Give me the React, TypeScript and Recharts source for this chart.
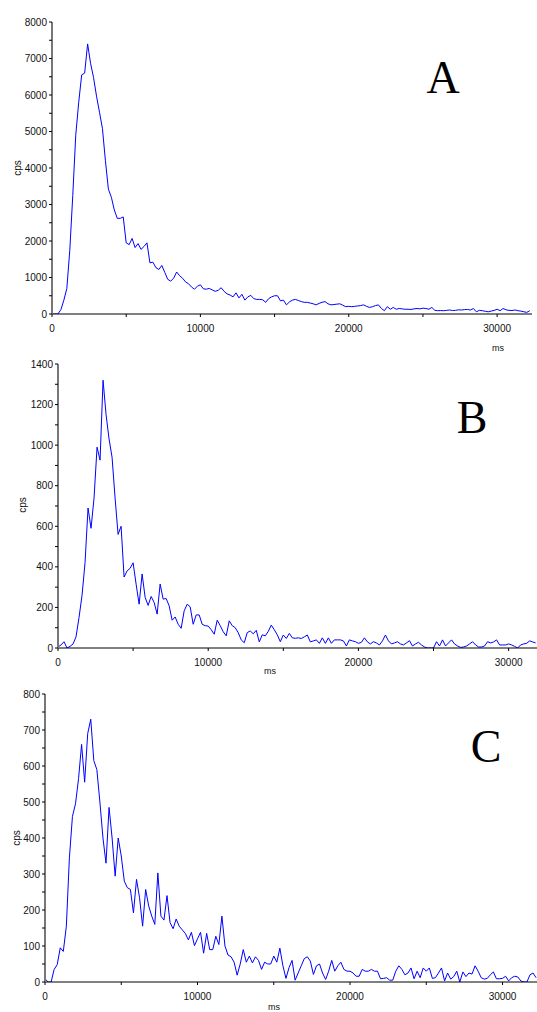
import React from 'react';
import { LineChart, Line, XAxis, YAxis } from 'recharts';

// counts per second, sampled every 200 ms
const STEP_MS = 200;

const cpsA = [
  0, 0, 0, 120, 380, 700, 1750, 3250, 4900, 5800,
  6550, 6600, 7400, 6870, 6480, 5970, 5530, 5080, 4200, 3420,
  3200, 2850, 2620, 2620, 2660, 1950, 1900, 2070, 1820, 1930,
  1770, 1850, 1950, 1400, 1420, 1270, 1220, 1330, 1140, 950,
  900, 980, 1150, 1050, 980, 880, 830, 740, 680, 760,
  800, 690, 680, 700, 660, 620, 650, 720, 620, 550,
  520, 470, 580, 440, 540, 380, 470, 510, 420, 400,
  400, 390, 320, 420, 470, 500, 500, 360, 380, 250,
  330, 380, 400, 370, 340, 320, 320, 300, 280, 250,
  290, 320, 340, 280, 250, 260, 270, 280, 240, 200,
  210, 200, 210, 220, 230, 250, 210, 180, 200, 230,
  250, 150, 90, 200, 130, 180, 130, 150, 140, 130,
  130, 125, 140, 150, 140, 160, 150, 130, 180, 100,
  90, 95, 90, 100, 110, 95, 100, 115, 110, 120,
  125, 110, 150, 60, 100, 90, 75, 60, 80, 100,
  130, 90, 150, 115, 100, 95, 110, 90, 80, 60,
  45, 90,
];

const cpsB = [
  5, 15, 31, 0, 8, 20, 55, 150, 260, 420,
  690, 590, 740, 990, 926, 1320, 1150, 1030, 940, 740,
  560, 600, 350, 380, 393, 420, 315, 216, 365, 250,
  210, 254, 225, 167, 315, 241, 244, 208, 137, 153,
  117, 97, 183, 216, 203, 117, 163, 163, 117, 110,
  108, 90, 68, 137, 110, 80, 60, 134, 110, 100,
  75, 40, 26, 76, 84, 70, 87, 30, 65, 60,
  82, 113, 90, 65, 31, 64, 47, 72, 50, 48,
  50, 47, 55, 64, 30, 35, 40, 23, 50, 23,
  50, 23, 40, 40, 40, 35, 10, 40, 35, 31,
  23, 28, 50, 30, 20, 31, 25, 15, 35, 64,
  35, 20, 25, 31, 20, 15, 25, 36, 10, 20,
  28, 15, 5, 0, 0, 0, 31, 10, 40, 10,
  25, 40, 20, 10, 3, 5, 10, 20, 31, 15,
  5, 5, 10, 31, 25, 30, 40, 15, 15, 15,
  20, 15, 8, 0, 15, 20, 23, 35, 30, 25,
];

const cpsC = [
  9, 0, 0, 35, 48, 95, 85, 155, 345, 460,
  495, 565, 660, 555, 690, 730, 615, 590, 500, 400,
  330, 485, 400, 294, 400, 350, 280, 262, 257, 192,
  285, 234, 155, 257, 211, 183, 160, 303, 183, 172,
  240, 165, 148, 175, 155, 145, 135, 117, 138, 101,
  120, 138, 80, 135, 90, 90, 127, 104, 183, 100,
  75, 70, 55, 19, 50, 90, 55, 72, 53, 70,
  60, 35, 55, 50, 50, 72, 55, 94, 45, 10,
  40, 60, 5, 25, 45, 65, 70, 58, 21, 45,
  50, 25, 7, 30, 60, 30, 45, 55, 35, 30,
  30, 25, 16, 16, 35, 30, 30, 35, 30, 30,
  9, 10, 12, 5, 5, 30, 45, 35, 20, 25,
  39, 9, 30, 12, 39, 30, 39, 10, 12, 25,
  39, 3, 25, 8, 15, 30, 0, 28, 15, 25,
  22, 45, 30, 12, 8, 10, 20, 28, 9, 9,
  10, 16, 3, 12, 16, 14, 3, 0, 0, 20,
  25, 12,
];

const xTicks = [0, 5000, 10000, 15000, 20000, 25000, 30000];
const yTicksA = [0, 500, 1000, 1500, 2000, 2500, 3000, 3500, 4000, 4500, 5000, 5500, 6000, 6500, 7000, 7500, 8000];
const yTicksB = [0, 100, 200, 300, 400, 500, 600, 700, 800, 900, 1000, 1100, 1200, 1300, 1400];
const yTicksC = [0, 50, 100, 150, 200, 250, 300, 350, 400, 450, 500, 550, 600, 650, 700, 750, 800];

const FONT = '"Liberation Sans", Arial, sans-serif';
const tickStyle = { fill: '#111', fontSize: 10, fontFamily: FONT };

function toRows(values: number[]) {
  return values.map((cps, i) => ({ ms: i * STEP_MS, cps }));
}

type PanelProps = {
  values: number[];
  top: number;
  width: number;
  height: number;
  marginTop: number;
  yWidth: number;
  yMax: number;
  yTicks: number[];
  yLabelEvery: number;
  xMax: number;
};

function Panel({ values, top, width, height, marginTop, yWidth, yMax, yTicks, yLabelEvery, xMax }: PanelProps) {
  return (
    <div style={{ position: 'absolute', left: 0, top }}>
      <LineChart
        width={width}
        height={height}
        data={toRows(values)}
        margin={{ top: marginTop, right: 0, bottom: 0, left: 0 }}
      >
        <XAxis
          dataKey="ms"
          type="number"
          domain={[0, xMax]}
          allowDataOverflow
          ticks={xTicks}
          interval={0}
          tickFormatter={(v: number) => (v % 10000 === 0 ? String(v) : '')}
          height={30}
          tickSize={3}
          tickMargin={8}
          axisLine={{ stroke: '#000' }}
          tickLine={{ stroke: '#000' }}
          tick={tickStyle}
        />
        <YAxis
          type="number"
          domain={[0, yMax]}
          allowDataOverflow
          ticks={yTicks}
          interval={0}
          tickFormatter={(v: number) => (v % yLabelEvery === 0 ? String(v) : '')}
          width={yWidth}
          tickSize={3}
          tickMargin={2}
          axisLine={{ stroke: '#777', strokeWidth: 2 }}
          tickLine={{ stroke: '#000' }}
          tick={tickStyle}
        />
        <Line
          type="linear"
          dataKey="cps"
          stroke="#0000ff"
          strokeWidth={1}
          dot={false}
          activeDot={false}
          isAnimationActive={false}
        />
      </LineChart>
    </div>
  );
}

export default function App() {
  return (
    <div style={{ position: 'relative', width: 537, height: 1012, overflow: 'hidden', background: '#fff' }}>
      <style>{'body{margin:0}'}</style>

      {/* A */}
      <Panel values={cpsA} top={0} width={532} height={344} marginTop={22} yWidth={52}
        yMax={8000} yTicks={yTicksA} yLabelEvery={1000} xMax={32350} />
      {/* B */}
      <Panel values={cpsB} top={340} width={537} height={338} marginTop={24} yWidth={58}
        yMax={1400} yTicks={yTicksB} yLabelEvery={200} xMax={31890} />
      {/* C */}
      <Panel values={cpsC} top={670} width={537} height={342} marginTop={24} yWidth={45}
        yMax={800} yTicks={yTicksC} yLabelEvery={100} xMax={32260} />

      {/* axis titles and panel letters */}
      <svg width={537} height={1012} style={{ position: 'absolute', left: 0, top: 0, pointerEvents: 'none' }}>
        <g fontFamily={FONT} fill="#111">
          <text x={17} y={168} fontSize={10} textAnchor="middle" dominantBaseline="central" transform="rotate(-90 17 168)">cps</text>
          <text x={22} y={505} fontSize={10} textAnchor="middle" dominantBaseline="central" transform="rotate(-90 22 505)">cps</text>
          <text x={16} y={838} fontSize={10} textAnchor="middle" dominantBaseline="central" transform="rotate(-90 16 838)">cps</text>
          <text x={498} y={351} fontSize={9} textAnchor="middle">ms</text>
          <text x={270} y={674} fontSize={9} textAnchor="middle">ms</text>
          <text x={274} y={1010} fontSize={9} textAnchor="middle">ms</text>
        </g>
        <g fontFamily='"Liberation Serif", "Times New Roman", serif' fill="#000" fontSize={46} textAnchor="middle">
          <text x={443} y={93}>A</text>
          <text x={472} y={433}>B</text>
          <text x={486} y={762}>C</text>
        </g>
      </svg>
    </div>
  );
}
